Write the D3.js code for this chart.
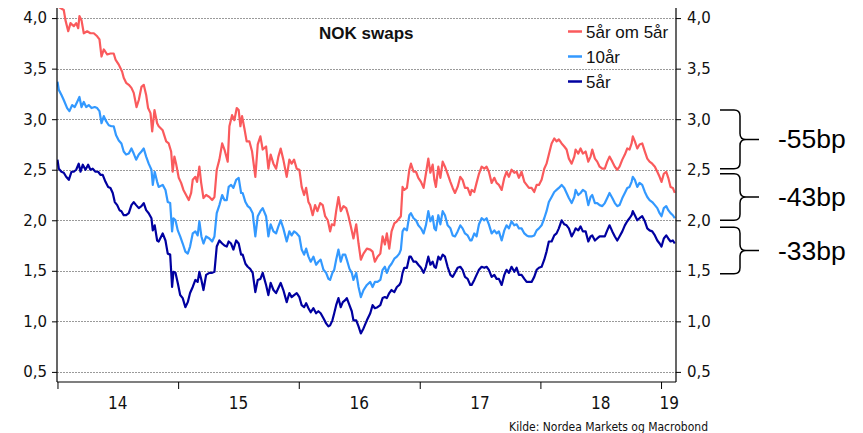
<!DOCTYPE html>
<html><head><meta charset="utf-8">
<script src="https://cdn.jsdelivr.net/npm/d3@7"></script>
<style>body{margin:0;background:#fff}svg{display:block}</style>
</head><body><svg id="chart" width="863" height="433"></svg>
<script>
// ---------- data (decimal year, percent) ----------
const seriesNames = ["5år om 5år", "10år", "5år"];
const seriesColors = ["#fa5a5c", "#3399ff", "#0000a0"];

const fwd5y5y = [[2014.011,4.11],[2014.052,4.08],[2014.066,3.98],[2014.089,3.87],[2014.108,3.95],[2014.135,3.92],[2014.155,3.95],[2014.172,3.90],[2014.182,4.02],[2014.199,3.98],[2014.218,3.85],[2014.246,3.87],[2014.273,3.85],[2014.301,3.85],[2014.329,3.82],[2014.348,3.79],[2014.365,3.62],[2014.384,3.69],[2014.412,3.64],[2014.439,3.65],[2014.466,3.65],[2014.481,3.59],[2014.508,3.54],[2014.536,3.47],[2014.549,3.41],[2014.569,3.36],[2014.591,3.34],[2014.613,3.31],[2014.632,3.26],[2014.655,3.12],[2014.674,3.19],[2014.696,3.32],[2014.715,3.34],[2014.735,3.24],[2014.751,3.11],[2014.771,3.06],[2014.785,2.88],[2014.804,3.09],[2014.826,2.96],[2014.839,2.93],[2014.872,2.89],[2014.901,2.78],[2014.922,2.76],[2014.942,2.68],[2014.955,2.48],[2014.969,2.63],[2014.983,2.56],[2015.005,2.42],[2015.025,2.37],[2015.044,2.30],[2015.066,2.25],[2015.088,2.20],[2015.108,2.27],[2015.121,2.40],[2015.143,2.43],[2015.157,2.38],[2015.176,2.53],[2015.191,2.37],[2015.210,2.22],[2015.232,2.25],[2015.259,2.23],[2015.282,2.20],[2015.301,2.23],[2015.320,2.50],[2015.342,2.60],[2015.365,2.76],[2015.384,2.70],[2015.411,2.58],[2015.425,2.93],[2015.447,3.04],[2015.466,2.99],[2015.486,3.11],[2015.502,3.09],[2015.516,2.93],[2015.530,3.03],[2015.549,2.91],[2015.568,2.78],[2015.591,2.78],[2015.613,2.68],[2015.640,2.43],[2015.660,2.75],[2015.682,2.83],[2015.701,2.70],[2015.729,2.73],[2015.748,2.51],[2015.767,2.65],[2015.790,2.56],[2015.812,2.51],[2015.831,2.63],[2015.850,2.71],[2015.872,2.60],[2015.900,2.43],[2015.922,2.60],[2015.941,2.56],[2015.961,2.60],[2015.983,2.51],[2016.005,2.50],[2016.024,2.33],[2016.044,2.25],[2016.061,2.32],[2016.080,2.18],[2016.094,2.15],[2016.115,2.05],[2016.135,2.15],[2016.154,2.09],[2016.177,2.17],[2016.198,2.15],[2016.218,2.04],[2016.240,2.00],[2016.259,1.89],[2016.273,1.96],[2016.293,1.95],[2016.309,2.09],[2016.328,2.23],[2016.347,2.09],[2016.370,2.14],[2016.392,2.12],[2016.411,2.04],[2016.430,1.94],[2016.452,1.82],[2016.475,1.96],[2016.494,1.77],[2016.513,1.61],[2016.535,1.67],[2016.563,1.72],[2016.591,1.71],[2016.610,1.69],[2016.629,1.59],[2016.651,1.64],[2016.674,1.67],[2016.693,1.84],[2016.712,1.76],[2016.728,1.87],[2016.748,1.72],[2016.767,1.89],[2016.790,1.97],[2016.811,1.99],[2016.831,2.02],[2016.844,2.04],[2016.858,2.33],[2016.872,2.30],[2016.894,2.32],[2016.914,2.50],[2016.927,2.56],[2016.949,2.48],[2016.969,2.48],[2016.988,2.42],[2017.010,2.38],[2017.032,2.32],[2017.051,2.46],[2017.071,2.61],[2017.088,2.47],[2017.107,2.55],[2017.121,2.40],[2017.134,2.33],[2017.154,2.53],[2017.171,2.42],[2017.190,2.58],[2017.209,2.53],[2017.231,2.46],[2017.254,2.38],[2017.273,2.32],[2017.292,2.27],[2017.314,2.33],[2017.336,2.43],[2017.355,2.40],[2017.375,2.32],[2017.397,2.32],[2017.419,2.25],[2017.430,2.30],[2017.452,2.28],[2017.471,2.37],[2017.491,2.46],[2017.513,2.53],[2017.535,2.51],[2017.554,2.53],[2017.573,2.48],[2017.596,2.37],[2017.618,2.42],[2017.637,2.37],[2017.656,2.35],[2017.679,2.30],[2017.701,2.42],[2017.720,2.48],[2017.739,2.43],[2017.761,2.50],[2017.784,2.47],[2017.803,2.48],[2017.822,2.42],[2017.844,2.48],[2017.867,2.38],[2017.886,2.35],[2017.905,2.32],[2017.927,2.32],[2017.949,2.28],[2017.969,2.35],[2017.988,2.35],[2018.010,2.40],[2018.032,2.51],[2018.051,2.56],[2018.070,2.65],[2018.093,2.76],[2018.115,2.81],[2018.134,2.78],[2018.153,2.80],[2018.176,2.76],[2018.198,2.73],[2018.217,2.70],[2018.236,2.61],[2018.259,2.56],[2018.281,2.63],[2018.292,2.70],[2018.314,2.66],[2018.333,2.71],[2018.352,2.66],[2018.375,2.68],[2018.397,2.58],[2018.416,2.63],[2018.430,2.70],[2018.452,2.61],[2018.471,2.58],[2018.491,2.53],[2018.513,2.51],[2018.534,2.51],[2018.554,2.58],[2018.573,2.63],[2018.596,2.58],[2018.617,2.53],[2018.637,2.50],[2018.656,2.53],[2018.679,2.60],[2018.700,2.65],[2018.720,2.71],[2018.739,2.70],[2018.756,2.76],[2018.766,2.83],[2018.783,2.78],[2018.803,2.71],[2018.822,2.75],[2018.844,2.76],[2018.866,2.68],[2018.886,2.61],[2018.905,2.58],[2018.927,2.56],[2018.949,2.53],[2018.969,2.48],[2018.988,2.43],[2019.004,2.38],[2019.023,2.46],[2019.043,2.48],[2019.060,2.42],[2019.079,2.33],[2019.098,2.32],[2019.114,2.27]];

const swap10y = [[2014.000,3.37],[2014.011,3.29],[2014.033,3.24],[2014.052,3.19],[2014.080,3.11],[2014.099,3.08],[2014.122,3.14],[2014.143,3.12],[2014.163,3.17],[2014.182,3.22],[2014.199,3.12],[2014.218,3.17],[2014.238,3.12],[2014.259,3.14],[2014.282,3.11],[2014.309,3.12],[2014.329,3.11],[2014.348,3.08],[2014.365,2.96],[2014.384,3.03],[2014.403,2.98],[2014.425,2.94],[2014.447,2.93],[2014.466,2.93],[2014.486,2.84],[2014.508,2.79],[2014.530,2.76],[2014.549,2.68],[2014.569,2.65],[2014.591,2.66],[2014.613,2.71],[2014.632,2.66],[2014.652,2.60],[2014.674,2.65],[2014.696,2.68],[2014.715,2.71],[2014.735,2.63],[2014.756,2.56],[2014.779,2.50],[2014.790,2.35],[2014.806,2.48],[2014.826,2.38],[2014.839,2.33],[2014.872,2.35],[2014.895,2.30],[2014.914,2.18],[2014.934,2.17],[2014.950,1.89],[2014.961,2.02],[2014.978,2.00],[2014.997,1.90],[2015.017,1.84],[2015.038,1.77],[2015.060,1.69],[2015.080,1.67],[2015.099,1.74],[2015.121,1.87],[2015.143,1.89],[2015.162,1.85],[2015.176,1.99],[2015.193,1.84],[2015.210,1.77],[2015.232,1.84],[2015.259,1.82],[2015.282,1.79],[2015.301,1.84],[2015.320,2.07],[2015.342,2.15],[2015.365,2.25],[2015.384,2.20],[2015.403,2.20],[2015.419,2.33],[2015.439,2.35],[2015.458,2.32],[2015.481,2.40],[2015.502,2.42],[2015.522,2.27],[2015.535,2.27],[2015.558,2.18],[2015.577,2.14],[2015.597,2.12],[2015.618,2.07],[2015.640,1.84],[2015.660,2.04],[2015.682,2.09],[2015.701,2.12],[2015.729,2.04],[2015.748,1.84],[2015.767,1.96],[2015.790,1.89],[2015.812,1.87],[2015.831,1.94],[2015.850,2.00],[2015.872,1.92],[2015.900,1.79],[2015.922,1.89],[2015.941,1.85],[2015.961,1.89],[2015.983,1.87],[2016.005,1.84],[2016.024,1.71],[2016.044,1.66],[2016.061,1.72],[2016.080,1.64],[2016.099,1.59],[2016.121,1.64],[2016.143,1.56],[2016.162,1.59],[2016.181,1.61],[2016.204,1.51],[2016.226,1.48],[2016.245,1.42],[2016.259,1.41],[2016.278,1.48],[2016.293,1.51],[2016.309,1.61],[2016.328,1.71],[2016.347,1.59],[2016.364,1.66],[2016.384,1.66],[2016.397,1.61],[2016.419,1.52],[2016.438,1.48],[2016.452,1.41],[2016.475,1.48],[2016.494,1.34],[2016.513,1.24],[2016.535,1.31],[2016.563,1.36],[2016.591,1.39],[2016.610,1.34],[2016.629,1.39],[2016.651,1.39],[2016.674,1.41],[2016.693,1.51],[2016.712,1.54],[2016.728,1.48],[2016.748,1.54],[2016.767,1.57],[2016.790,1.62],[2016.811,1.64],[2016.831,1.67],[2016.844,1.71],[2016.858,1.89],[2016.872,1.92],[2016.894,1.90],[2016.914,2.05],[2016.927,2.07],[2016.949,2.02],[2016.969,2.00],[2016.988,1.95],[2017.010,1.92],[2017.032,1.87],[2017.051,1.95],[2017.071,2.09],[2017.088,1.99],[2017.107,2.04],[2017.121,1.92],[2017.134,1.90],[2017.154,2.05],[2017.171,1.96],[2017.190,2.09],[2017.209,2.05],[2017.231,1.95],[2017.254,1.92],[2017.273,1.85],[2017.292,1.84],[2017.314,1.89],[2017.336,1.95],[2017.355,1.92],[2017.375,1.87],[2017.397,1.85],[2017.419,1.80],[2017.430,1.80],[2017.452,1.87],[2017.471,1.84],[2017.491,1.96],[2017.513,2.02],[2017.535,2.00],[2017.554,2.02],[2017.573,1.96],[2017.596,1.87],[2017.618,1.90],[2017.637,1.87],[2017.656,1.89],[2017.679,1.80],[2017.701,1.90],[2017.720,1.95],[2017.739,1.92],[2017.761,1.99],[2017.784,1.95],[2017.803,1.96],[2017.822,1.92],[2017.844,1.92],[2017.867,1.87],[2017.886,1.85],[2017.905,1.84],[2017.927,1.84],[2017.949,1.85],[2017.969,1.90],[2017.988,1.92],[2018.010,1.95],[2018.032,2.02],[2018.051,2.09],[2018.070,2.18],[2018.093,2.23],[2018.115,2.28],[2018.134,2.30],[2018.153,2.32],[2018.176,2.35],[2018.198,2.32],[2018.217,2.27],[2018.236,2.22],[2018.259,2.17],[2018.281,2.23],[2018.292,2.30],[2018.314,2.25],[2018.333,2.27],[2018.352,2.30],[2018.375,2.28],[2018.397,2.15],[2018.416,2.23],[2018.430,2.25],[2018.452,2.17],[2018.471,2.17],[2018.491,2.15],[2018.513,2.14],[2018.534,2.17],[2018.554,2.22],[2018.573,2.27],[2018.596,2.22],[2018.617,2.17],[2018.637,2.14],[2018.656,2.15],[2018.679,2.22],[2018.700,2.27],[2018.720,2.32],[2018.739,2.33],[2018.756,2.38],[2018.766,2.43],[2018.783,2.40],[2018.803,2.33],[2018.822,2.37],[2018.844,2.35],[2018.866,2.28],[2018.886,2.23],[2018.905,2.20],[2018.927,2.18],[2018.949,2.15],[2018.969,2.12],[2018.988,2.07],[2019.004,2.04],[2019.023,2.12],[2019.043,2.14],[2019.060,2.10],[2019.079,2.07],[2019.098,2.05],[2019.114,2.02]];

const swap5y = [[2014.000,2.60],[2014.011,2.51],[2014.033,2.48],[2014.052,2.47],[2014.072,2.43],[2014.094,2.40],[2014.116,2.48],[2014.135,2.48],[2014.155,2.50],[2014.176,2.56],[2014.191,2.48],[2014.210,2.55],[2014.232,2.50],[2014.254,2.55],[2014.273,2.50],[2014.292,2.51],[2014.315,2.48],[2014.337,2.48],[2014.356,2.45],[2014.375,2.45],[2014.398,2.38],[2014.420,2.33],[2014.439,2.32],[2014.458,2.27],[2014.475,2.18],[2014.495,2.15],[2014.514,2.10],[2014.530,2.09],[2014.549,2.05],[2014.569,2.05],[2014.591,2.07],[2014.613,2.15],[2014.632,2.18],[2014.652,2.15],[2014.674,2.12],[2014.696,2.14],[2014.715,2.17],[2014.735,2.10],[2014.756,2.07],[2014.779,2.02],[2014.790,1.90],[2014.806,1.95],[2014.826,1.80],[2014.839,1.79],[2014.872,1.87],[2014.895,1.80],[2014.914,1.67],[2014.934,1.66],[2014.950,1.34],[2014.961,1.49],[2014.978,1.48],[2014.997,1.38],[2015.017,1.26],[2015.038,1.23],[2015.060,1.14],[2015.080,1.19],[2015.099,1.28],[2015.121,1.34],[2015.143,1.41],[2015.162,1.39],[2015.176,1.49],[2015.193,1.41],[2015.210,1.31],[2015.232,1.46],[2015.259,1.48],[2015.282,1.48],[2015.301,1.49],[2015.320,1.74],[2015.342,1.80],[2015.365,1.77],[2015.384,1.75],[2015.403,1.74],[2015.419,1.79],[2015.439,1.77],[2015.458,1.71],[2015.481,1.80],[2015.502,1.77],[2015.522,1.66],[2015.535,1.66],[2015.558,1.57],[2015.577,1.54],[2015.597,1.52],[2015.618,1.48],[2015.640,1.29],[2015.660,1.41],[2015.682,1.42],[2015.701,1.48],[2015.729,1.36],[2015.748,1.26],[2015.767,1.38],[2015.790,1.31],[2015.812,1.28],[2015.831,1.33],[2015.850,1.38],[2015.872,1.31],[2015.900,1.19],[2015.922,1.28],[2015.941,1.24],[2015.961,1.26],[2015.983,1.28],[2016.005,1.24],[2016.024,1.16],[2016.044,1.14],[2016.061,1.18],[2016.080,1.13],[2016.099,1.09],[2016.121,1.13],[2016.143,1.08],[2016.162,1.10],[2016.181,1.08],[2016.204,1.03],[2016.226,0.98],[2016.245,0.95],[2016.259,0.96],[2016.278,1.01],[2016.293,1.08],[2016.309,1.16],[2016.328,1.23],[2016.347,1.14],[2016.364,1.19],[2016.384,1.21],[2016.397,1.23],[2016.419,1.16],[2016.438,1.10],[2016.452,1.01],[2016.475,1.01],[2016.494,0.95],[2016.513,0.88],[2016.535,0.93],[2016.563,1.01],[2016.591,1.08],[2016.610,1.16],[2016.629,1.13],[2016.651,1.14],[2016.674,1.16],[2016.693,1.23],[2016.712,1.24],[2016.728,1.23],[2016.748,1.28],[2016.767,1.31],[2016.790,1.29],[2016.811,1.34],[2016.831,1.36],[2016.844,1.39],[2016.858,1.48],[2016.872,1.53],[2016.894,1.53],[2016.914,1.64],[2016.927,1.64],[2016.949,1.59],[2016.969,1.59],[2016.988,1.56],[2017.010,1.53],[2017.032,1.48],[2017.051,1.54],[2017.071,1.64],[2017.088,1.56],[2017.107,1.59],[2017.121,1.54],[2017.134,1.53],[2017.154,1.64],[2017.171,1.61],[2017.190,1.66],[2017.209,1.64],[2017.231,1.54],[2017.254,1.46],[2017.273,1.44],[2017.292,1.48],[2017.314,1.53],[2017.336,1.54],[2017.355,1.51],[2017.375,1.44],[2017.397,1.42],[2017.419,1.36],[2017.430,1.36],[2017.452,1.41],[2017.471,1.46],[2017.491,1.51],[2017.513,1.54],[2017.535,1.53],[2017.554,1.54],[2017.573,1.51],[2017.596,1.44],[2017.618,1.46],[2017.637,1.42],[2017.656,1.42],[2017.679,1.36],[2017.701,1.46],[2017.720,1.51],[2017.739,1.48],[2017.761,1.54],[2017.784,1.49],[2017.803,1.53],[2017.822,1.46],[2017.844,1.46],[2017.867,1.42],[2017.886,1.39],[2017.905,1.39],[2017.927,1.39],[2017.949,1.44],[2017.969,1.51],[2017.988,1.53],[2018.010,1.54],[2018.032,1.61],[2018.051,1.69],[2018.070,1.79],[2018.093,1.79],[2018.115,1.85],[2018.134,1.87],[2018.153,1.92],[2018.176,2.00],[2018.198,1.96],[2018.217,1.95],[2018.236,1.92],[2018.259,1.84],[2018.281,1.89],[2018.292,1.92],[2018.314,1.90],[2018.333,1.94],[2018.352,1.89],[2018.375,1.89],[2018.397,1.79],[2018.416,1.84],[2018.430,1.85],[2018.452,1.80],[2018.471,1.82],[2018.491,1.84],[2018.513,1.84],[2018.534,1.84],[2018.554,1.90],[2018.573,1.95],[2018.596,1.89],[2018.617,1.84],[2018.637,1.80],[2018.656,1.84],[2018.679,1.89],[2018.700,1.95],[2018.720,1.99],[2018.739,2.02],[2018.756,2.05],[2018.766,2.09],[2018.783,2.05],[2018.803,2.00],[2018.822,2.02],[2018.844,2.04],[2018.866,1.99],[2018.886,1.92],[2018.905,1.90],[2018.927,1.89],[2018.949,1.85],[2018.969,1.80],[2018.988,1.77],[2019.004,1.74],[2019.023,1.82],[2019.043,1.85],[2019.060,1.82],[2019.079,1.79],[2019.098,1.80],[2019.114,1.77]];

const yTickValues = [0.5, 1.0, 1.5, 2.0, 2.5, 3.0, 3.5, 4.0];
const yearTicks = [2014, 2015, 2016, 2017, 2018, 2019];
const yearLabels = ["14", "15", "16", "17", "18", "19"];
const chartTitle = "NOK swaps";
const sourceText = "Kilde: Nordea Markets og Macrobond";
const spreadLabels = ["-55bp", "-43bp", "-33bp"];
const spreadTop = [3.09, 2.46, 1.93];
const spreadBottom = [2.51, 2.00, 1.47];

// ---------- chart ----------
const decToDate = d => {
  const y = Math.floor(d);
  const s = Date.UTC(y, 0, 1), e = Date.UTC(y + 1, 0, 1);
  return new Date(s + (d - y) * (e - s));
};
const L = 57, R = 676, T = 8, B = 382;
const x = d3.scaleUtc().domain([decToDate(2013.996), decToDate(2019.124)]).range([L, R]);
const y = d3.scaleLinear().domain([0.4, 4.1]).range([B, T]);
const loc = d3.formatLocale({decimal: ",", thousands: " ", grouping: [3], currency: ["", ""]});
const fmt = loc.format(".1f");

const svg = d3.select("#chart");
svg.append("rect").attr("width", 863).attr("height", 433).attr("fill", "#fff");

// grid
svg.append("g").selectAll("line").data(yTickValues).join("line")
  .attr("x1", L).attr("x2", R)
  .attr("y1", d => Math.round(y(d)) + 0.5).attr("y2", d => Math.round(y(d)) + 0.5)
  .attr("stroke", "#9a9a9a").attr("stroke-width", 1).attr("stroke-dasharray", "2,1");

// clip
svg.append("clipPath").attr("id", "plot").append("rect")
  .attr("x", L).attr("y", T).attr("width", R - L).attr("height", B - T);

// lines
const line = d3.line().x(d => x(decToDate(d[0]))).y(d => y(d[1])).curve(d3.curveLinear);
const allSeries = [fwd5y5y, swap10y, swap5y];
svg.append("g").attr("clip-path", "url(#plot)").selectAll("path").data(allSeries).join("path")
  .attr("d", line).attr("fill", "none")
  .attr("stroke", (d, i) => seriesColors[i]).attr("stroke-width", 2.2)
  .attr("stroke-linejoin", "round");

// axes
const axisFont = "'DejaVu Sans', Verdana, sans-serif";
const yl = svg.append("g").attr("transform", `translate(${L},0)`)
  .call(d3.axisLeft(y).tickValues(yTickValues).tickFormat(fmt).tickSize(5).tickPadding(5));
const yr = svg.append("g").attr("transform", `translate(${R},0)`)
  .call(d3.axisRight(y).tickValues(yTickValues).tickFormat(fmt).tickSize(5).tickPadding(6));
[yl, yr].forEach(g => {
  g.select(".domain").attr("d", `M0,${T}V${B}`).attr("stroke", "#000").attr("stroke-width", 1.2);
  g.selectAll(".tick line").attr("stroke", "#000");
  g.selectAll("text").attr("font-family", axisFont).attr("font-size", 15).attr("fill", "#111");
});

const xa = svg.append("g").attr("transform", `translate(0,${B})`)
  .call(d3.axisBottom(x).tickValues(yearTicks.map(v => decToDate(v))).tickFormat("").tickSize(7));
xa.select(".domain").attr("d", `M${L},0H${R}`).attr("stroke", "#000").attr("stroke-width", 1.2);
xa.selectAll(".tick line").attr("stroke", "#000");

const xEnd = x.range()[1];
svg.append("g").selectAll("text").data(yearTicks).join("text")
  .attr("x", (d, i) => {
    const a = x(decToDate(d)), b = Math.min(x(decToDate(d + 1)), xEnd);
    return i === yearTicks.length - 1 ? b + 3 : (a + b) / 2;
  })
  .attr("text-anchor", (d, i) => i === yearTicks.length - 1 ? "end" : "middle")
  .attr("y", 409)
  .attr("font-family", "'Liberation Sans Narrow', 'DejaVu Sans Condensed', sans-serif")
  .attr("font-size", 17).attr("fill", "#111")
  .text((d, i) => yearLabels[i]);

// title
svg.append("text").attr("x", 319).attr("y", 39)
  .attr("font-family", "'Liberation Sans', Arial, sans-serif").attr("font-weight", "bold")
  .attr("font-size", 17).attr("fill", "#111").text(chartTitle);

// legend
const lg = svg.append("g").selectAll("g").data(seriesNames).join("g")
  .attr("transform", (d, i) => `translate(568,${38 + i * 25})`);
lg.append("line").attr("x1", 0).attr("x2", 14).attr("y1", -6.5).attr("y2", -6.5)
  .attr("stroke", (d, i) => seriesColors[i]).attr("stroke-width", 2.5);
lg.append("text").attr("x", 18).attr("y", 0)
  .attr("font-family", "'Liberation Sans', Arial, sans-serif").attr("font-size", 17)
  .attr("fill", "#111").text(d => d);

// braces + spread labels
const brace = (y0, y1) => {
  const x0 = 720, xs = 740, xt = 759, r = 6, ym = (y0 + y1) / 2;
  return `M${x0},${y0}L${xs - r},${y0}Q${xs},${y0} ${xs},${y0 + r}L${xs},${ym - r}Q${xs},${ym} ${xs + r},${ym}L${xt},${ym}` +
         `M${xs + r},${ym}Q${xs},${ym} ${xs},${ym + r}L${xs},${y1 - r}Q${xs},${y1} ${xs - r},${y1}L${x0},${y1}`;
};
const ann = svg.append("g").selectAll("g").data(spreadLabels).join("g");
ann.append("path").attr("d", (d, i) => brace(y(spreadTop[i]), y(spreadBottom[i])))
  .attr("fill", "none").attr("stroke", "#000").attr("stroke-width", 1.5);
ann.append("text").attr("x", 778)
  .attr("y", (d, i) => (y(spreadTop[i]) + y(spreadBottom[i])) / 2 + 9)
  .attr("font-family", "'Liberation Sans', Arial, sans-serif").attr("font-size", 26.5)
  .attr("fill", "#000").text(d => d);

// source
svg.append("text").attr("x", 708).attr("y", 431).attr("text-anchor", "end")
  .attr("font-family", "'Liberation Sans Narrow', 'DejaVu Sans Condensed', sans-serif")
  .attr("font-size", 12).attr("fill", "#111").text(sourceText);
</script></body></html>
